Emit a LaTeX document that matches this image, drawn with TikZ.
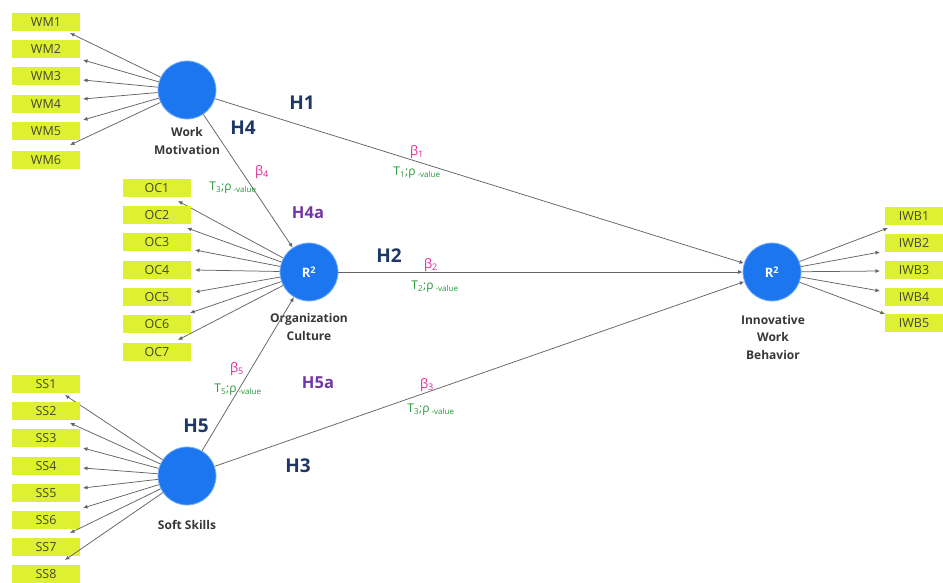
\documentclass[tikz,border=0pt]{standalone}
\usepackage{fontspec}
\setmainfont{Open Sans}
\usetikzlibrary{arrows.meta}
\definecolor{indfill}{RGB}{222,240,50}
\definecolor{indtext}{RGB}{70,72,45}
\definecolor{lvblue}{RGB}{28,118,240}
\definecolor{lvglow}{RGB}{120,175,250}
\definecolor{linegray}{RGB}{100,100,100}
\definecolor{hnavy}{RGB}{30,55,100}
\definecolor{hpurple}{RGB}{115,55,165}
\definecolor{betamag}{RGB}{228,40,150}
\definecolor{tgreen}{RGB}{40,150,60}
\definecolor{namegray}{RGB}{55,55,55}
\tikzset{
  ind/.style={fill=indfill, minimum width=68pt, minimum height=18pt, inner sep=0pt,
    font=\fontsize{12.5}{14}\selectfont, text=indtext},
  indr/.style={ind, minimum width=58pt},
  lv/.style={circle, fill=lvblue, draw=lvglow, line width=0.8pt, minimum size=58pt,
    inner sep=0pt, text=white, font=\fontsize{13}{15}\selectfont\bfseries},
  conn/.style={draw=linegray, line width=0.75pt, -{Latex[length=4.5pt,width=4pt]}},
  lvname/.style={align=center, text=namegray, font=\fontsize{12}{17.5}\selectfont\bfseries},
  hlab/.style={text=hnavy, font=\fontsize{19}{22}\selectfont\bfseries},
  hlabp/.style={text=hpurple, font=\fontsize{16.5}{19}\selectfont\bfseries},
  betalab/.style={text=betamag, font=\fontsize{13}{15}\selectfont},
  tlab/.style={text=tgreen, font=\fontsize{12}{14}\selectfont}
}
\newcommand{\tval}[1]{T\textsubscript{#1};ρ\,\textsubscript{-value}}
\begin{document}
\begin{tikzpicture}[x=1pt,y=-1pt]
\useasboundingbox[fill=white] (0,0) rectangle (943,583);

% latent variables
\node[lv] (wm) at (187,90) {};
\node[lv] (oc) at (309,272) {R\textsuperscript{2}};
\node[lv] (iwb) at (772,272) {R\textsuperscript{2}};
\node[lv] (ss) at (187,476) {};

\node[lvname] (wmn) at (187,141) {Work\\Motivation};
\node[lvname] (ocn) at (309,327) {Organization\\Culture};
\node[lvname] (iwbn) at (773,337) {Innovative\\Work\\Behavior};
\node[lvname] (ssn) at (187,525) {Soft Skills};

% WM indicators
\foreach \i/\y/\tx/\ty in {1/22/70/33, 2/49/83/60, 3/76/83/80, 4/104/83/99, 5/131/83/120, 6/160/70/145}{
  \node[ind] (wm\i) at (46,\y) {WM\i};
  \coordinate (twm\i) at (\tx,\ty);
  \draw[conn] (wm) -- (twm\i);
}
% OC indicators
\foreach \i/\y/\tx/\ty in {1/188/178/201, 2/215/187/228, 3/242/195/250, 4/270/195/270, 5/297/195/292, 6/324/190/313, 7/352/178/340}{
  \node[ind] (oc\i) at (157,\y) {OC\i};
  \coordinate (toc\i) at (\tx,\ty);
  \draw[conn] (oc) -- (toc\i);
}
% SS indicators
\foreach \i/\y/\tx/\ty in {1/384/65/395, 2/411/70/423, 3/438/83/448, 4/466/83/468, 5/493/83/488, 6/520/83/508, 7/547/70/533, 8/574/65/560}{
  \node[ind] (ss\i) at (46,\y) {SS\i};
  \coordinate (tss\i) at (\tx,\ty);
  \draw[conn] (ss) -- (tss\i);
}
% IWB indicators
\foreach \i/\y/\tx/\ty in {1/216/888/228, 2/243/880/252, 3/270/880/271, 4/297/880/291, 5/323/885/314}{
  \node[indr] (iwb\i) at (914,\y) {IWB\i};
  \coordinate (tiwb\i) at (\tx,\ty);
  \draw[conn] (iwb) -- (tiwb\i);
}

% structural paths
\draw[conn] (wm) -- (iwb);
\draw[conn] (oc) -- (iwb);
\draw[conn] (ss) -- (iwb);
\draw[conn] (wm) -- (oc);
\draw[conn] (ss) -- (oc);

% hypothesis labels
\node[hlab] (h1) at (302,103) {H1};
\node[hlab] (h4) at (243,128) {H4};
\node[hlab] (h2) at (389,256) {H2};
\node[hlab] (h3) at (298,466) {H3};
\node[hlab] (h5) at (196,426) {H5};
\node[hlabp] (h4a) at (308,213) {H4a};
\node[hlabp] (h5a) at (318,383) {H5a};

% path coefficients
\node[betalab] (b1) at (417,152) {β\textsubscript{1}};
\node[tlab] (t1) at (417,173) {\tval{1}};
\node[betalab] (b2) at (431,265) {β\textsubscript{2}};
\node[tlab] (t2) at (435,287) {\tval{2}};
\node[betalab] (b3) at (427,385) {β\textsubscript{3}};
\node[tlab] (t3) at (431,410) {\tval{3}};
\node[betalab] (b4) at (262,172) {β\textsubscript{4}};
\node[tlab] (t4) at (233,188) {\tval{3}};
\node[betalab] (b5) at (237,369) {β\textsubscript{5}};
\node[tlab] (t5) at (238,390) {\tval{5}};
\end{tikzpicture}
\end{document}
